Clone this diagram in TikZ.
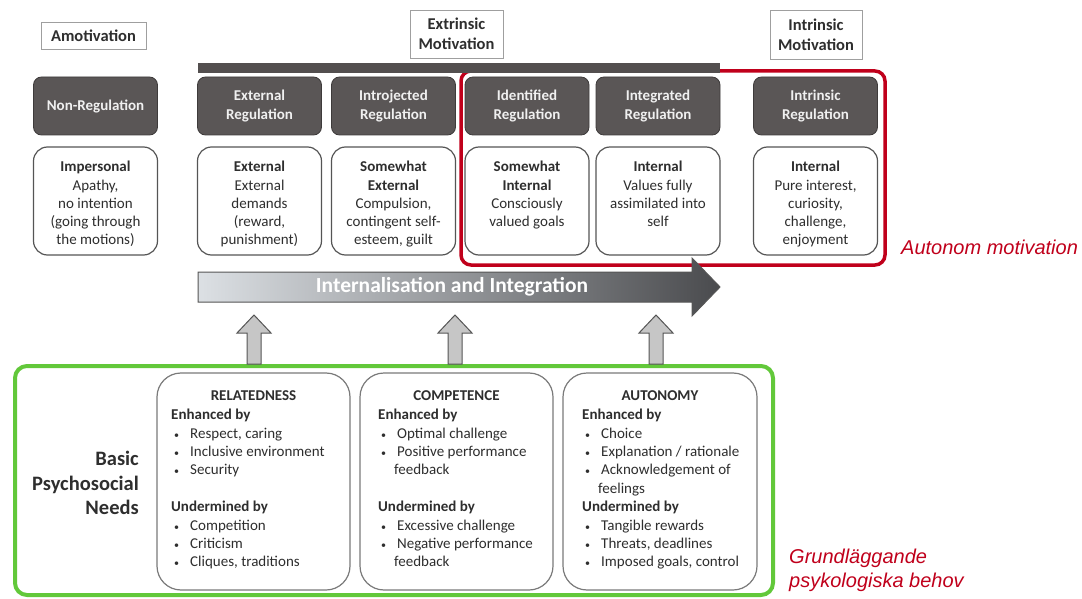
\documentclass[tikz,border=0pt]{standalone}
\usepackage{fontspec}
\setmainfont{Carlito}
\newfontfamily\notefont{Liberation Sans}

\definecolor{ink}{HTML}{2E2E2E}
\definecolor{darkbox}{HTML}{5A5656}
\definecolor{darkedge}{HTML}{3E3B3B}
\definecolor{boxedge}{HTML}{555555}
\definecolor{neededge}{HTML}{7A7A7A}
\definecolor{autored}{HTML}{C0001B}
\definecolor{needgreen}{HTML}{62C83A}
\definecolor{arrowlight}{HTML}{DCE0E4}
\definecolor{arrowmid}{HTML}{A4A8AC}
\definecolor{arrowdark}{HTML}{4A4B4E}
\definecolor{uparrowfill}{HTML}{C6C6C6}

% bullet list lines inside the need boxes
\newcommand\needdot{{\fontsize{10}{10}\selectfont\textbullet}}
\newcommand\needitem[1]{\hspace*{3pt}\makebox[16pt][l]{\needdot}#1}
\newcommand\needcont[1]{\hspace*{16pt}#1}

\tikzset{
  hdr/.style={draw=gray!75, line width=0.8pt, fill=white, text=ink,
    font=\fontsize{16.5}{20}\selectfont\bfseries, align=center, inner sep=0pt},
  regbox/.style={draw=darkedge, line width=0.8pt, fill=darkbox, rounded corners=8pt,
    minimum width=124pt, minimum height=58pt, text=gray!12,
    font=\fontsize{15}{19}\selectfont\bfseries, align=center, inner sep=0pt},
  descbox/.style={draw=boxedge, line width=1.2pt, fill=white, rounded corners=14pt,
    minimum width=124pt, minimum height=108pt, inner sep=0pt},
  desctext/.style={anchor=north, text=ink, font=\fontsize{15}{18.3}\selectfont,
    align=center, inner sep=0pt},
  needbox/.style={draw=neededge, line width=1.2pt, fill=white, rounded corners=24pt,
    minimum height=217pt, inner sep=0pt},
  needtitle/.style={text=ink, font=\fontsize{15}{18.4}\selectfont\bfseries, inner sep=0pt},
  needtext/.style={anchor=north west, text=ink, font=\fontsize{15}{18.4}\selectfont,
    align=left, inner sep=0pt},
  note/.style={text=autored, font=\notefont\itshape\fontsize{20}{24}\selectfont,
    align=left, inner sep=0pt},
  uparrow/.style={draw=boxedge, line width=1pt, fill=uparrowfill, line join=miter},
}

\begin{document}
\begin{tikzpicture}[x=1pt,y=-1pt]
\useasboundingbox (0,0) rectangle (1082,599);

% motivation type headers
\node[hdr, minimum width=105pt, minimum height=27pt] (amot) at (93.5,35.5) {Amotivation};
\node[hdr, minimum width=93pt, minimum height=48pt] (extr) at (456.5,34) {Extrinsic\\Motivation};
\node[hdr, minimum width=92pt, minimum height=49pt] (intr) at (816,35) {Intrinsic\\Motivation};

% autonomous motivation frame
\draw[autored, line width=3.5pt, rounded corners=10pt] (461,71) rectangle (885,265);

% bar spanning the extrinsic regulations
\fill[darkbox!92!black] (198,63) rectangle (720,73);

% regulation styles
\node[regbox] (nonreg)   at (95.5,106)  {Non-Regulation};
\node[regbox] (extreg)   at (259.5,106) {External\\Regulation};
\node[regbox] (introreg) at (393.5,106) {Introjected\\Regulation};
\node[regbox] (identreg) at (527,106)   {Identified\\Regulation};
\node[regbox] (integreg) at (658,106)   {Integrated\\Regulation};
\node[regbox] (intrreg)  at (815.5,106) {Intrinsic\\Regulation};

% loci of causality
\node[descbox] (nonbox)   at (95.5,201)  {};
\node[descbox] (extbox)   at (259.5,201) {};
\node[descbox] (introbox) at (393.5,201) {};
\node[descbox] (identbox) at (527,201)   {};
\node[descbox] (integbox) at (658,201)   {};
\node[descbox] (intrbox)  at (815.5,201) {};

\node[desctext] (nontext)   at (95.5,161)  {\textbf{Impersonal}\\Apathy,\\no intention\\(going through\\the motions)};
\node[desctext] (exttext)   at (259.5,161) {\textbf{External}\\External\\demands\\(reward,\\punishment)};
\node[desctext] (introtext) at (393.5,161) {\textbf{Somewhat}\\\textbf{External}\\Compulsion,\\contingent self-\\esteem, guilt};
\node[desctext] (identtext) at (527,161)   {\textbf{Somewhat}\\\textbf{Internal}\\Consciously\\valued goals};
\node[desctext] (integtext) at (658,161)   {\textbf{Internal}\\Values fully\\assimilated into\\self};
\node[desctext] (intrtext)  at (815.5,161) {\textbf{Internal}\\Pure interest,\\curiosity,\\challenge,\\enjoyment};

% internalisation arrow
\shadedraw[left color=arrowlight, middle color=arrowmid, right color=arrowdark, draw=boxedge, line width=1pt, line join=miter]
  (198,272) -- (692,272) -- (692,258) -- (720,287) -- (692,316) -- (692,302) -- (198,302) -- cycle;
\node[text=white, font=\fontsize{21.5}{24}\selectfont\bfseries, inner sep=0pt] (inttext) at (452,287) {Internalisation and Integration};

% basic psychosocial needs frame
\draw[needgreen, line width=4pt, rounded corners=12pt] (15,366) rectangle (773,595);

% arrows from the needs up to the internalisation arrow
\foreach \n/\x in {1/254, 2/455, 3/656} {
  \coordinate (up\n) at (\x,364);
  \draw[uparrow, shift={(up\n)}] (-7,0) -- (-7,-31) -- (-17,-31) -- (0,-49) -- (17,-31) -- (7,-31) -- (7,0) -- cycle;
}

\node[text=ink, font=\fontsize{20.5}{24.5}\selectfont\bfseries, align=right, anchor=east, inner sep=0pt] (needs) at (139,483) {Basic\\Psychosocial\\Needs};

\node[needbox, minimum width=193pt] (relbox)  at (253.5,481.5) {};
\node[needbox, minimum width=193pt] (compbox) at (456.5,481.5) {};
\node[needbox, minimum width=194pt] (autbox)  at (660,481.5)   {};

\node[needtitle] (reltitle)  at (253.5,396) {RELATEDNESS};
\node[needtitle] (comptitle) at (456.5,396) {COMPETENCE};
\node[needtitle] (auttitle)  at (660,396)   {AUTONOMY};

\node[needtext] (reltext) at (171,409) {\textbf{Enhanced by}\\
  \needitem{Respect, caring}\\
  \needitem{Inclusive environment}\\
  \needitem{Security}\\[18.4pt]
  \textbf{Undermined by}\\
  \needitem{Competition}\\
  \needitem{Criticism}\\
  \needitem{Cliques, traditions}};

\node[needtext] (comptext) at (378,409) {\textbf{Enhanced by}\\
  \needitem{Optimal challenge}\\
  \needitem{Positive performance}\\
  \needcont{feedback}\\[18.4pt]
  \textbf{Undermined by}\\
  \needitem{Excessive challenge}\\
  \needitem{Negative performance}\\
  \needcont{feedback}};

\node[needtext] (auttext) at (582,409) {\textbf{Enhanced by}\\
  \needitem{Choice}\\
  \needitem{Explanation / rationale}\\
  \needitem{Acknowledgement of}\\
  \needcont{feelings}\\
  \textbf{Undermined by}\\
  \needitem{Tangible rewards}\\
  \needitem{Threats, deadlines}\\
  \needitem{Imposed goals, control}};

% annotations
\node[note, anchor=west] (autnote) at (901,247) {Autonom motivation};
\node[note, anchor=west] (needsnote) at (789,570) {Grundläggande\\psykologiska behov};
\end{tikzpicture}
\end{document}
